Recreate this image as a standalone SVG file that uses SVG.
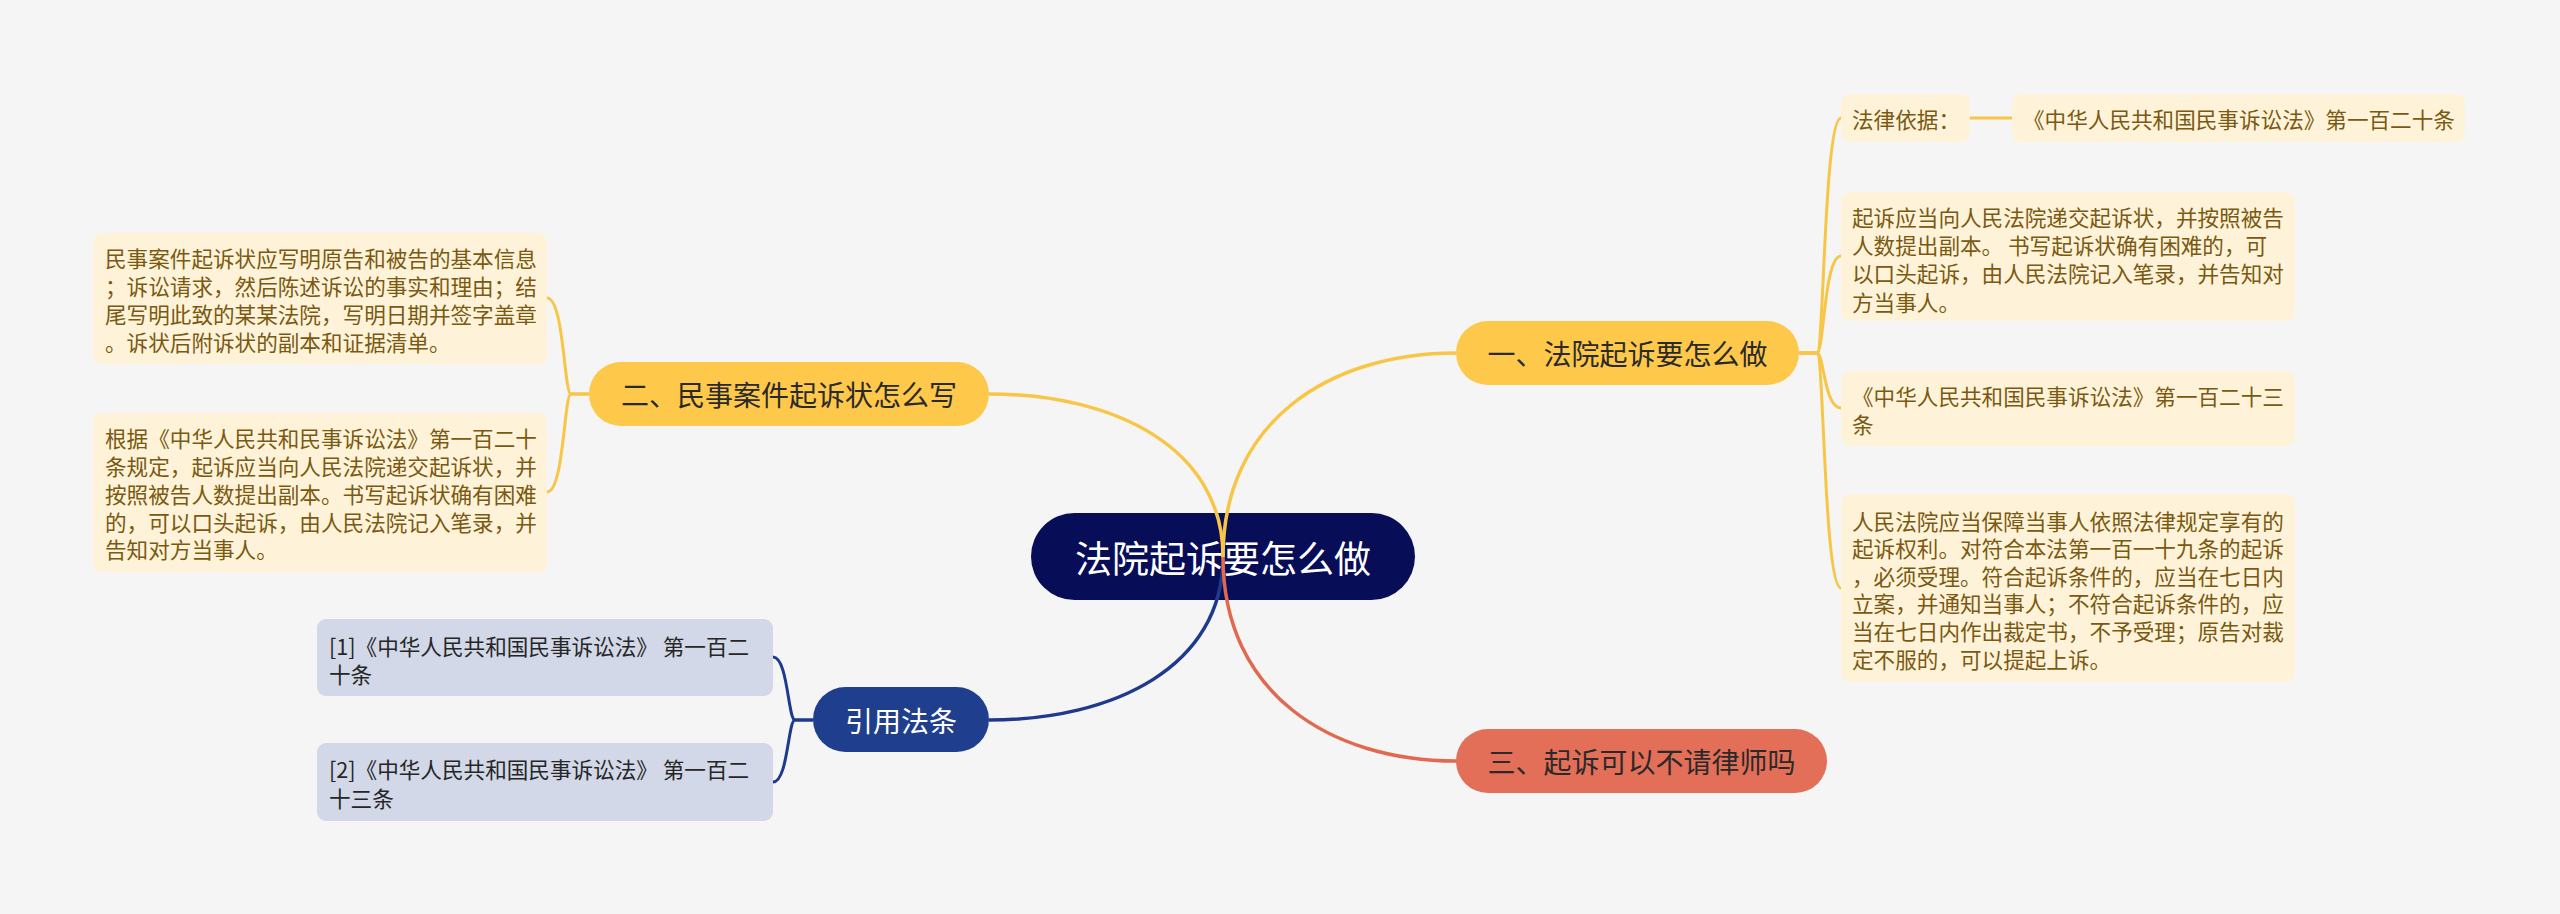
<svg xmlns="http://www.w3.org/2000/svg" width="2560" height="914" viewBox="0 0 2560 914">
<style>
text{font-family:"Noto Sans CJK SC","Noto Sans",sans-serif;dominant-baseline:central}
.root{fill:#080d58}
.rootT{fill:#ffffff;font-size:37px;text-anchor:middle}
.yb{fill:#fec84b}
.rb{fill:#e46f59}
.bb{fill:#1f3f8e}
.bT{fill:#2a2a2a;font-size:28px;text-anchor:middle}
.bTw{fill:#ffffff;font-size:28px;text-anchor:middle}
.yl{fill:#fef3d8}
.bl{fill:#d2d8e7}
.ylT{fill:#7a5912;font-size:21.6px}
.blT{fill:#262626;font-size:21.6px}
.cy{fill:none;stroke:#f8c646;stroke-width:3.5}
.cb{fill:none;stroke:#1f3a8c;stroke-width:3.5}
.cr{fill:none;stroke:#e0694f;stroke-width:3.5}
.sy{fill:none;stroke:#f8c646;stroke-width:3}
.sb{fill:none;stroke:#1f3a8c;stroke-width:3}
</style>
<rect x="0" y="0" width="2560" height="914" fill="#f5f5f5"/>

<g id="nodes">
<g id="root">
<rect class="root" x="1031" y="513" width="384" height="87" rx="43.5"/>
<text class="rootT" x="1223" y="557">法院起诉要怎么做</text>
</g>

<g id="branch1">
<rect class="yb" x="1456" y="321" width="343" height="64" rx="32"/>
<text class="bT" x="1627.5" y="353">一、法院起诉要怎么做</text>
</g>

<g id="branch2">
<rect class="yb" x="589" y="362" width="400" height="64" rx="32"/>
<text class="bT" x="789" y="394">二、民事案件起诉状怎么写</text>
</g>

<g id="branch3">
<rect class="rb" x="1456" y="729" width="371" height="64" rx="32"/>
<text class="bT" x="1641.5" y="761">三、起诉可以不请律师吗</text>
</g>

<g id="branch4">
<rect class="bb" x="813" y="687" width="176" height="65" rx="32.5"/>
<text class="bTw" x="901" y="719.5">引用法条</text>
</g>

<g id="leaf-r1">
<rect class="yl" x="1841" y="94" width="129" height="48" rx="9"/>
<text class="ylT" x="1852" y="118">法律依据：</text>
</g>

<g id="leaf-r1b">
<rect class="yl" x="2012" y="94" width="453" height="48" rx="9"/>
<text class="ylT" x="2023" y="118">《中华人民共和国民事诉讼法》第一百二十条</text>
</g>

<g id="leaf-r2">
<rect class="yl" x="1841" y="192" width="454" height="129" rx="9"/>
<text class="ylT" x="1852" y="216">起诉应当向人民法院递交起诉状，并按照被告</text>
<text class="ylT" x="1852" y="244.3">人数提出副本。 书写起诉状确有困难的，可</text>
<text class="ylT" x="1852" y="272.6">以口头起诉，由人民法院记入笔录，并告知对</text>
<text class="ylT" x="1852" y="301">方当事人。</text>
</g>

<g id="leaf-r3">
<rect class="yl" x="1841" y="371" width="454" height="75" rx="9"/>
<text class="ylT" x="1852" y="395">《中华人民共和国民事诉讼法》第一百二十三</text>
<text class="ylT" x="1852" y="423">条</text>
</g>

<g id="leaf-r4">
<rect class="yl" x="1841" y="494" width="454" height="188" rx="9"/>
<text class="ylT" x="1852" y="520">人民法院应当保障当事人依照法律规定享有的</text>
<text class="ylT" x="1852" y="547.6">起诉权利。对符合本法第一百一十九条的起诉</text>
<text class="ylT" x="1852" y="575.2">，必须受理。符合起诉条件的，应当在七日内</text>
<text class="ylT" x="1852" y="602.8">立案，并通知当事人；不符合起诉条件的，应</text>
<text class="ylT" x="1852" y="630.4">当在七日内作出裁定书，不予受理；原告对裁</text>
<text class="ylT" x="1852" y="658">定不服的，可以提起上诉。</text>
</g>

<g id="leaf-l1">
<rect class="yl" x="93" y="233" width="454" height="131" rx="9"/>
<text class="ylT" x="105" y="257">民事案件起诉状应写明原告和被告的基本信息</text>
<text class="ylT" x="105" y="285">；诉讼请求，然后陈述诉讼的事实和理由；结</text>
<text class="ylT" x="105" y="313">尾写明此致的某某法院，写明日期并签字盖章</text>
<text class="ylT" x="105" y="341">。诉状后附诉状的副本和证据清单。</text>
</g>

<g id="leaf-l2">
<rect class="yl" x="93" y="413" width="454" height="159" rx="9"/>
<text class="ylT" x="105" y="437">根据《中华人民共和民事诉讼法》第一百二十</text>
<text class="ylT" x="105" y="465">条规定，起诉应当向人民法院递交起诉状，并</text>
<text class="ylT" x="105" y="493">按照被告人数提出副本。书写起诉状确有困难</text>
<text class="ylT" x="105" y="521">的，可以口头起诉，由人民法院记入笔录，并</text>
<text class="ylT" x="105" y="548">告知对方当事人。</text>
</g>

<g id="leaf-b1">
<rect class="bl" x="317" y="619" width="456" height="77" rx="9"/>
<text class="blT" x="329" y="645">[1]《中华人民共和国民事诉讼法》 第一百二</text>
<text class="blT" x="329" y="673">十条</text>
</g>

<g id="leaf-b2">
<rect class="bl" x="317" y="743" width="456" height="78" rx="9"/>
<text class="blT" x="329" y="768">[2]《中华人民共和国民事诉讼法》 第一百二</text>
<text class="blT" x="329" y="797">十三条</text>
</g>
</g>

<g id="connectors">
<path class="cy" d="M1223 557 C1223 421 1330 353 1456 353"/>
<path class="cy" d="M1223 557 C1223 448 1115 394 989 394"/>
<path class="cb" d="M1223 557 C1223 666 1115 720 989 720"/>
<path class="cr" d="M1223 557 C1223 693 1330 761 1456 761"/>

<path class="sy" d="M1799 353 H1817 C1824 353 1824 118 1841 118"/>
<path class="sy" d="M1799 353 H1817 C1824 353 1824 256 1841 256"/>
<path class="sy" d="M1799 353 H1817 C1824 353 1824 408 1841 408"/>
<path class="sy" d="M1799 353 H1817 C1824 353 1824 588 1841 588"/>
<path class="sy" d="M1970 118 H2012" stroke-width="4"/>

<path class="sy" d="M589 394 H571 C564 394 564 298 547 298"/>
<path class="sy" d="M589 394 H571 C564 394 564 492 547 492"/>

<path class="sb" d="M813 720 H795 C788 720 788 657 773 657"/>
<path class="sb" d="M813 720 H795 C788 720 788 782 773 782"/>
</g>
</svg>
